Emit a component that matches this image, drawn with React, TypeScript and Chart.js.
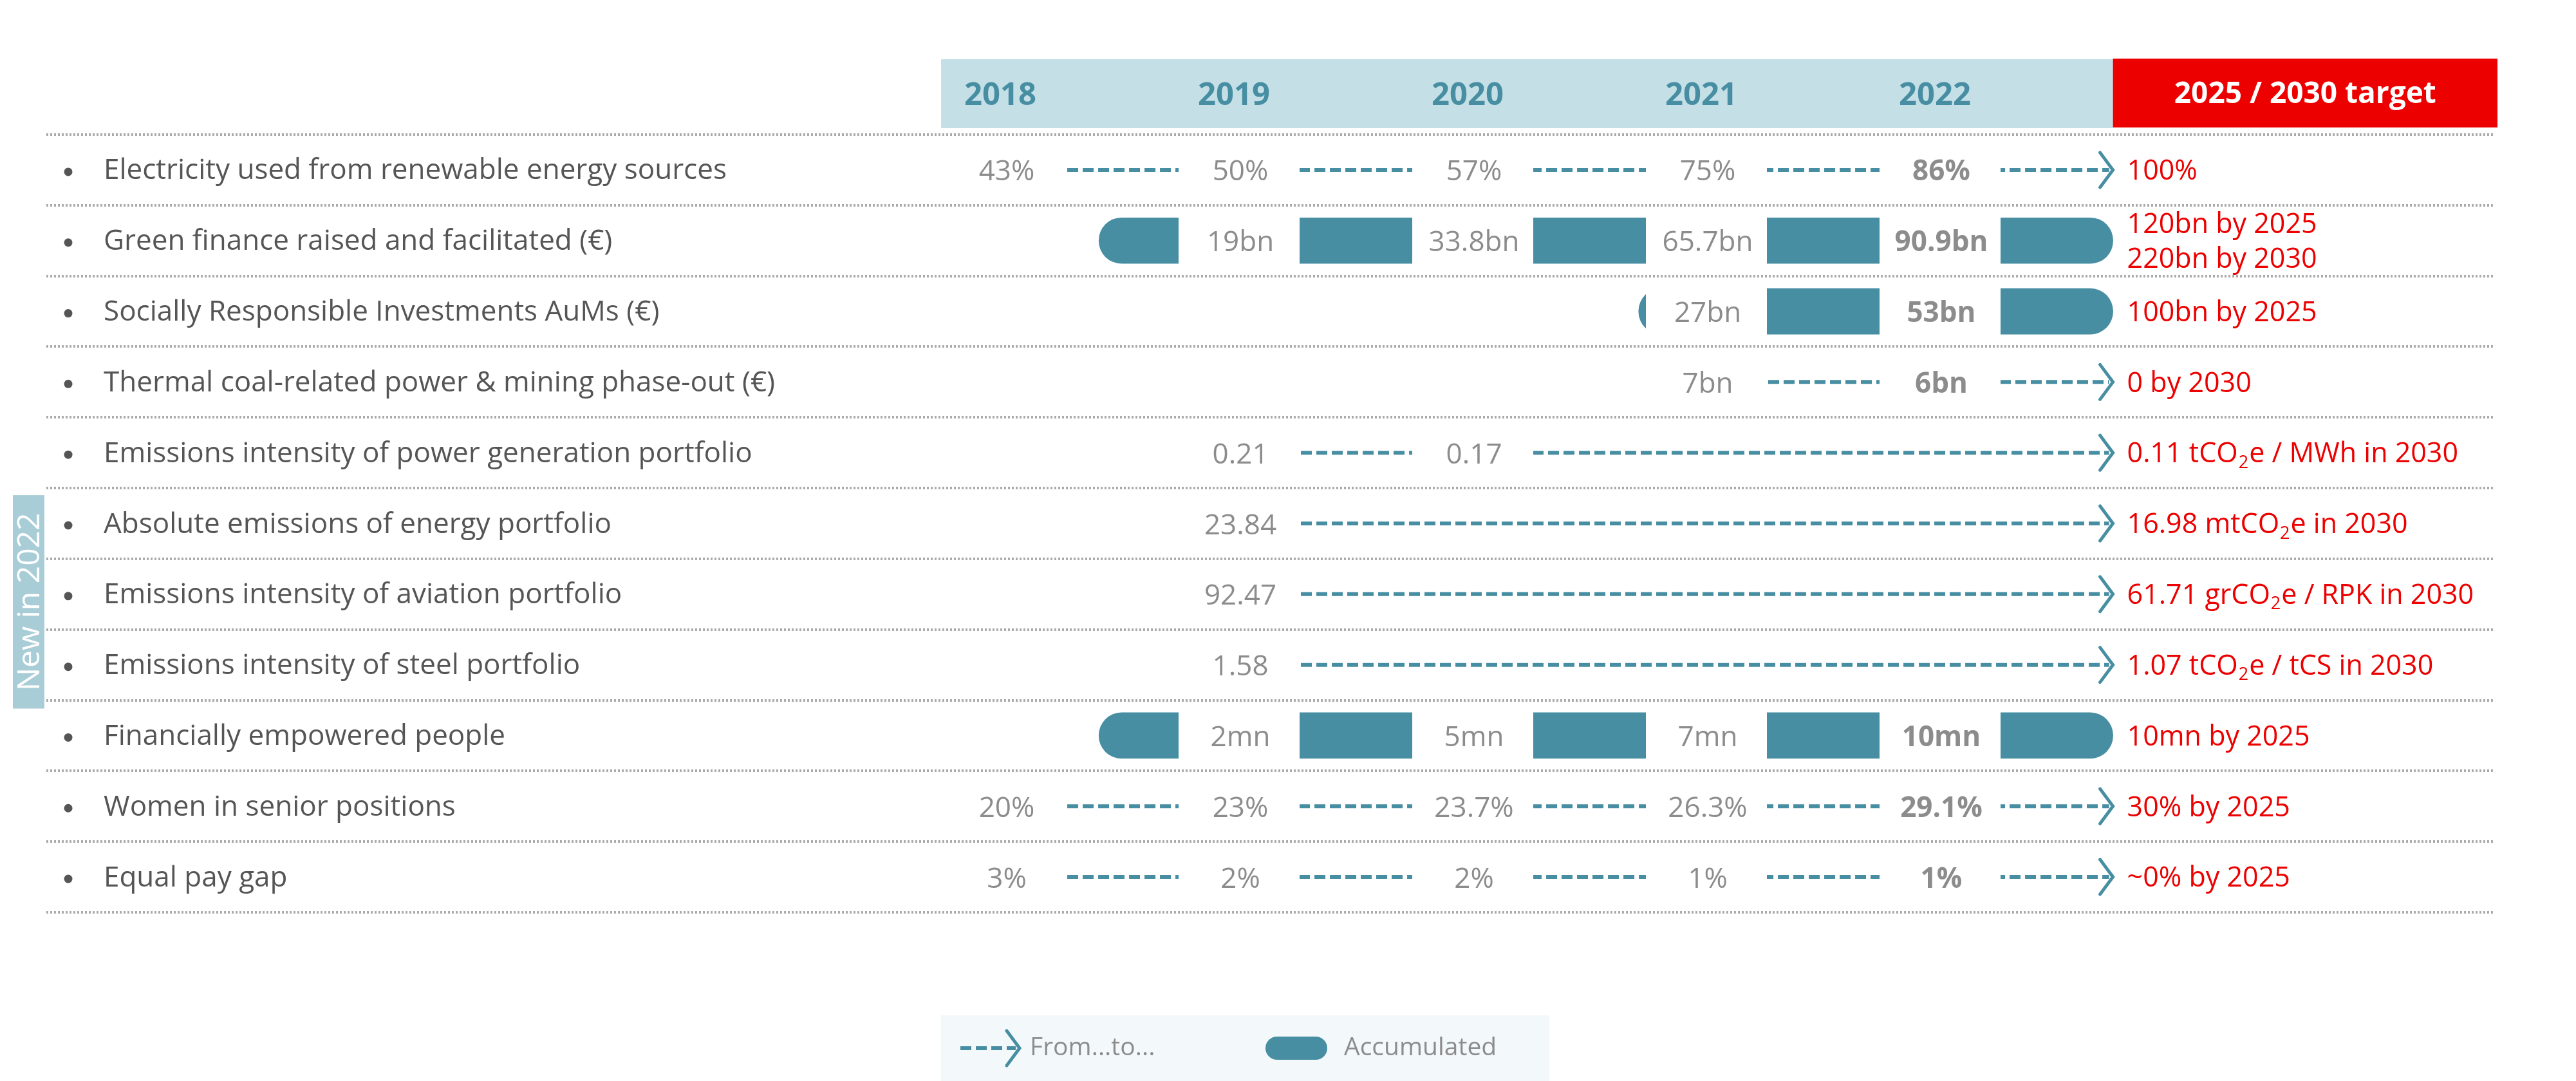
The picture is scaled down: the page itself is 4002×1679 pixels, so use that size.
import React, { useEffect, useRef } from 'react';
import { Chart, registerables } from 'chart.js';

Chart.register(...registerables);

// ---------- DATA ----------
const YEARS = [2018, 2019, 2020, 2021, 2022];
const TARGET_HEADER = '2025 / 2030 target';

const ROW_LABELS = [
  'Electricity used from renewable energy sources',
  'Green finance raised and facilitated (€)',
  'Socially Responsible Investments AuMs (€)',
  'Thermal coal-related power & mining phase-out (€)',
  'Emissions intensity of power generation portfolio',
  'Absolute emissions of energy portfolio',
  'Emissions intensity of aviation portfolio',
  'Emissions intensity of steel portfolio',
  'Financially empowered people',
  'Women in senior positions',
  'Equal pay gap',
];

// values per year column (2018..2022)
const V_ELECTRICITY = ['43%', '50%', '57%', '75%', '86%'];
const V_GREEN_FINANCE = [null, '19bn', '33.8bn', '65.7bn', '90.9bn'];
const V_SRI = [null, null, null, '27bn', '53bn'];
const V_COAL = [null, null, null, '7bn', '6bn'];
const V_POWER = [null, '0.21', '0.17', null, null];
const V_ENERGY = [null, '23.84', null, null, null];
const V_AVIATION = [null, '92.47', null, null, null];
const V_STEEL = [null, '1.58', null, null, null];
const V_PEOPLE = [null, '2mn', '5mn', '7mn', '10mn'];
const V_WOMEN = ['20%', '23%', '23.7%', '26.3%', '29.1%'];
const V_PAY_GAP = ['3%', '2%', '2%', '1%', '1%'];

const TARGETS = [
  ['100%'],
  ['120bn by 2025', '220bn by 2030'],
  ['100bn by 2025'],
  ['0 by 2030'],
  ['0.11 tCO₂e / MWh in 2030'],
  ['16.98 mtCO₂e in 2030'],
  ['61.71 grCO₂e / RPK in 2030'],
  ['1.07 tCO₂e / tCS in 2030'],
  ['10mn by 2025'],
  ['30% by 2025'],
  ['~0% by 2025'],
];

// row type: 'from' = dashed From...to... arrow, 'acc' = Accumulated bar
const ROW_KIND = ['from', 'acc', 'acc', 'from', 'from', 'from', 'from', 'from', 'acc', 'from', 'from'];
// start of accumulated bars (year axis)
const ACC_START = [null, 2018.4, 2020.71, null, null, null, null, null, 2018.4, null, null];
// end of arrows / bars (year axis)
const TARGET_POS = 2022.74;
const NEW_ROWS = [5, 6, 7];
const NEW_LABEL = 'New in 2022';
const LEGEND_FROM = 'From...to...';
const LEGEND_ACC = 'Accumulated';

const ROW_VALUES = [
  V_ELECTRICITY, V_GREEN_FINANCE, V_SRI, V_COAL, V_POWER, V_ENERGY,
  V_AVIATION, V_STEEL, V_PEOPLE, V_WOMEN, V_PAY_GAP,
];

// ---------- STYLE ----------
const FONT = '"Open Sans", "DejaVu Sans", sans-serif';
const TEAL = '#478ea3';
const HEADER_BG = '#c4dfe6';
const RED = '#ec0000';
const GREY_TXT = '#8c8c8c';
const LABEL_TXT = '#555555';
const SEP = '#ababab';
const NEW_BG = '#a9cdd7';
const LEGEND_BG = '#f3f9fa';

function drawRich(ctx: CanvasRenderingContext2D, text: string, x: number, y: number, size: number, weight: string, color: string) {
  const parts = text.split('₂');
  const sub = Math.round(size * 0.62);
  let cx = x;
  ctx.fillStyle = color;
  ctx.textAlign = 'left';
  ctx.textBaseline = 'middle';
  parts.forEach((p, i) => {
    ctx.font = `${weight} ${size}px ${FONT}`;
    ctx.fillText(p, cx, y);
    cx += ctx.measureText(p).width;
    if (i < parts.length - 1) {
      ctx.font = `${weight} ${sub}px ${FONT}`;
      ctx.fillText('2', cx + 1, y + size * 0.3);
      cx += ctx.measureText('2').width + 2;
    }
  });
}

function dashedArrow(ctx: CanvasRenderingContext2D, x0: number, x1: number, cy: number) {
  ctx.save();
  ctx.strokeStyle = TEAL;
  ctx.lineWidth = 6;
  ctx.setLineDash([17, 7]);
  ctx.beginPath();
  ctx.moveTo(x0, cy);
  ctx.lineTo(x1 - 6, cy);
  ctx.stroke();
  ctx.setLineDash([]);
  ctx.lineWidth = 5;
  ctx.lineCap = 'round';
  ctx.lineJoin = 'miter';
  ctx.beginPath();
  ctx.moveTo(x1 - 20, cy - 27);
  ctx.lineTo(x1, cy);
  ctx.lineTo(x1 - 20, cy + 27);
  ctx.stroke();
  ctx.restore();
}

const infographic = {
  id: 'infographic',
  beforeDatasetsDraw(chart: any) {
    const { ctx, chartArea: ca, scales } = chart;
    const x = scales.x, y = scales.y;
    const rowH = (ca.bottom - ca.top) / ROW_LABELS.length;
    ctx.save();

    // header band
    const hLeft = x.getPixelForValue(YEARS[0]) - 100;
    const tX = x.getPixelForValue(TARGET_POS);
    const hTop = ca.top - 117, hBot = ca.top - 10;
    ctx.fillStyle = HEADER_BG;
    ctx.fillRect(hLeft, hTop, tX - hLeft, hBot - hTop);
    ctx.fillStyle = RED;
    ctx.fillRect(tX, hTop - 1, ca.right + 5 - tX, hBot - hTop);
    ctx.textAlign = 'center';
    ctx.textBaseline = 'middle';
    ctx.font = `bold 49px ${FONT}`;
    ctx.fillStyle = TEAL;
    YEARS.forEach((yr) => ctx.fillText(String(yr), x.getPixelForValue(yr) - 8, (hTop + hBot) / 2 + 4));
    ctx.fillStyle = '#ffffff';
    ctx.font = `bold 46px ${FONT}`;
    ctx.fillText(TARGET_HEADER, (tX + ca.right + 5) / 2, (hTop + hBot) / 2 + 1);

    // separators
    ctx.strokeStyle = SEP;
    ctx.lineWidth = 4;
    ctx.setLineDash([3, 3]);
    for (let i = 0; i <= ROW_LABELS.length; i++) {
      const yy = Math.round(ca.top + i * rowH);
      ctx.beginPath();
      ctx.moveTo(ca.left, yy);
      ctx.lineTo(ca.right, yy);
      ctx.stroke();
    }
    ctx.setLineDash([]);

    // row labels
    ROW_LABELS.forEach((lab, i) => {
      const cy = y.getPixelForValue(i);
      ctx.fillStyle = LABEL_TXT;
      ctx.beginPath();
      ctx.arc(ca.left + 34, cy + 3, 6.5, 0, Math.PI * 2);
      ctx.fill();
      ctx.textAlign = 'left';
      ctx.textBaseline = 'middle';
      ctx.font = `44px ${FONT}`;
      ctx.fillText(lab, ca.left + 89, cy + 2);
    });

    // New in 2022 band
    const nTop = ca.top + NEW_ROWS[0] * rowH + 11;
    const nBot = ca.top + (NEW_ROWS[NEW_ROWS.length - 1] + 1) * rowH + 13;
    ctx.fillStyle = NEW_BG;
    ctx.fillRect(20, nTop, 49, nBot - nTop);
    ctx.save();
    ctx.translate(45, (nTop + nBot) / 2);
    ctx.rotate(-Math.PI / 2);
    ctx.fillStyle = '#ffffff';
    ctx.font = `48px ${FONT}`;
    ctx.textAlign = 'center';
    ctx.textBaseline = 'middle';
    ctx.fillText(NEW_LABEL, 0, 2);
    ctx.restore();

    // dashed From...to... arrows
    ROW_KIND.forEach((k, i) => {
      if (k !== 'from') return;
      const vals = ROW_VALUES[i];
      const first = vals.findIndex((v) => v !== null);
      const cy = y.getPixelForValue(i);
      dashedArrow(ctx, x.getPixelForValue(YEARS[first]), tX, cy);
    });
    ctx.restore();
  },
  afterDatasetsDraw(chart: any) {
    const { ctx, chartArea: ca, scales } = chart;
    const x = scales.x, y = scales.y;
    const tX = x.getPixelForValue(TARGET_POS);
    ctx.save();
    ROW_VALUES.forEach((vals, i) => {
      const cy = y.getPixelForValue(i);
      vals.forEach((v, j) => {
        if (v === null) return;
        const px = x.getPixelForValue(YEARS[j]);
        ctx.fillStyle = '#ffffff';
        ctx.fillRect(px - 94, cy - 42, 188, 84);
        ctx.fillStyle = GREY_TXT;
        ctx.textAlign = 'center';
        ctx.textBaseline = 'middle';
        ctx.font = `${j === YEARS.length - 1 ? 'bold ' : ''}44px ${FONT}`;
        ctx.fillText(v, px + 2, cy + 4);
      });
      // targets
      const lines = TARGETS[i];
      lines.forEach((t, k) => {
        const off = lines.length === 1 ? 0 : (k - (lines.length - 1) / 2) * 54;
        drawRich(ctx, t, tX + 22, cy + off + 3, 43, 'normal', RED);
      });
    });

    // legend
    const lTop = ca.bottom + 160;
    ctx.fillStyle = LEGEND_BG;
    ctx.fillRect(1462, lTop, 945, chart.height - lTop);
    const lc = lTop + 51;
    dashedArrow(ctx, 1492, 1584, lc);
    ctx.fillStyle = GREY_TXT;
    ctx.font = `39px ${FONT}`;
    ctx.textAlign = 'left';
    ctx.textBaseline = 'middle';
    ctx.fillText(LEGEND_FROM, 1600, lc);
    ctx.fillStyle = TEAL;
    ctx.beginPath();
    (ctx as any).roundRect(1966, lc - 18, 96, 36, 18);
    ctx.fill();
    ctx.fillStyle = GREY_TXT;
    ctx.fillText(LEGEND_ACC, 2088, lc);
    ctx.restore();
  },
};

export default function App() {
  const ref = useRef<HTMLCanvasElement | null>(null);
  useEffect(() => {
    if (!ref.current) return;
    const chart = new Chart(ref.current, {
      type: 'bar',
      data: {
        labels: ROW_LABELS,
        datasets: [
          {
            label: LEGEND_ACC,
            data: ROW_LABELS.map((_, i) => (ACC_START[i] === null ? null : [ACC_START[i], TARGET_POS])) as any,
            backgroundColor: TEAL,
            borderRadius: 36,
            borderSkipped: false,
            barThickness: 71,
          },
        ],
      },
      options: {
        indexAxis: 'y',
        responsive: false,
        maintainAspectRatio: false,
        animation: false,
        devicePixelRatio: 1,
        events: [],
        layout: { padding: { left: 72, right: 127, top: 209, bottom: 262 } },
        scales: {
          x: { type: 'linear', min: 2013.895, max: 2024.372, display: false },
          y: { type: 'category', display: false, offset: true },
        },
        plugins: { legend: { display: false }, tooltip: { enabled: false } },
      },
      plugins: [infographic],
    } as any);
    return () => chart.destroy();
  }, []);
  return (
    <canvas
      ref={ref}
      width={4002}
      height={1679}
      style={{ position: 'fixed', left: 0, top: 0, width: 4002, height: 1679, display: 'block', background: '#ffffff' }}
    />
  );
}
